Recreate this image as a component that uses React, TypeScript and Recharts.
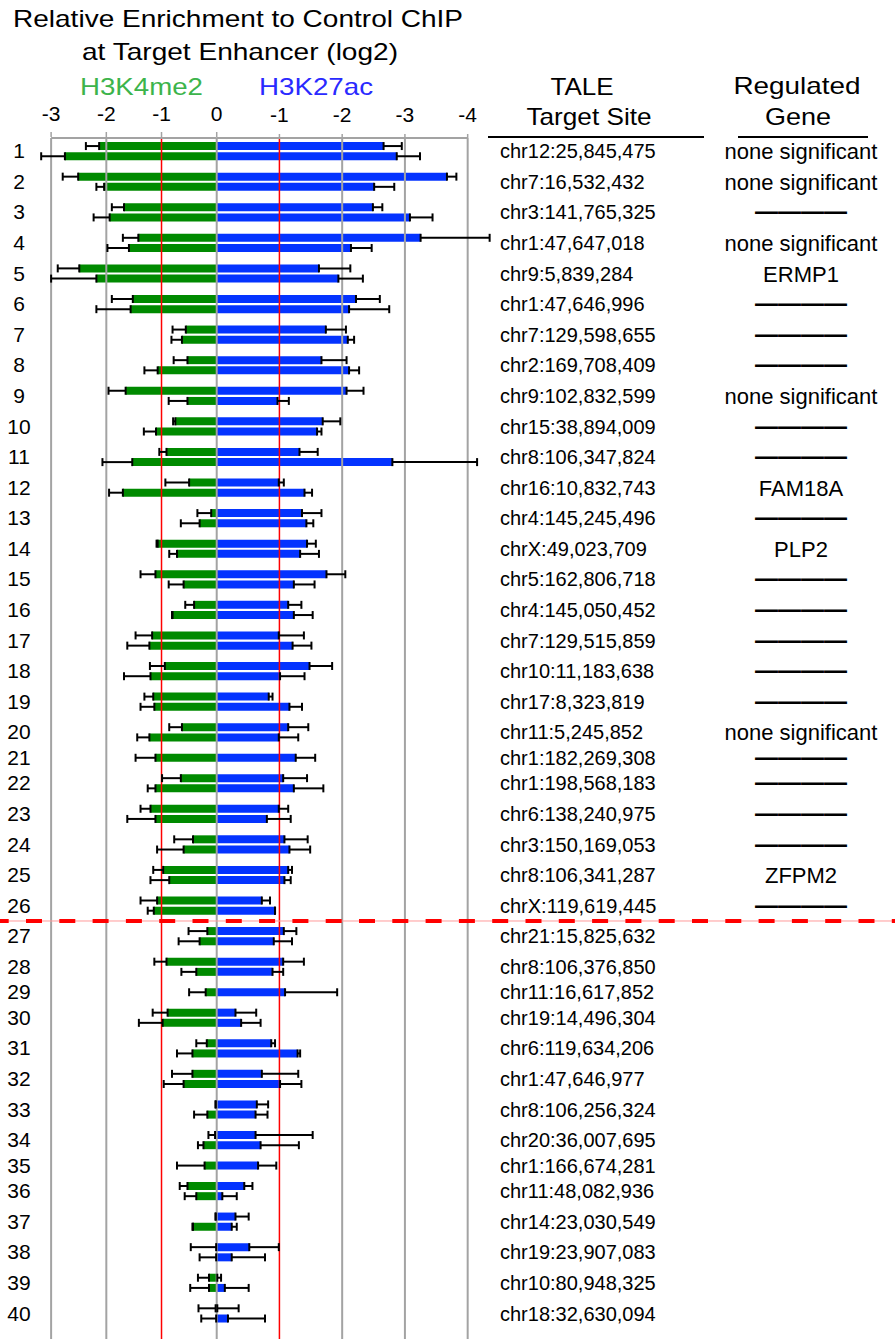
import { BarChart, Bar, XAxis, YAxis, ErrorBar, ReferenceLine } from 'recharts';

const FONT = '"Liberation Sans", Arial, Helvetica, sans-serif';
const GREEN = '#008a00';
const BLUE = '#0433ff';
const GRID = '#a3a3a3';
const RED = '#ff0000';

const ROW_NUMBERS = [
  '1', '2', '3', '4', '5', '6', '7', '8', '9', '10',
  '11', '12', '13', '14', '15', '16', '17', '18', '19', '20',
  '21', '22', '23', '24', '25', '26', '27', '28', '29', '30',
  '31', '32', '33', '34', '35', '36', '37', '38', '39', '40',
];

const TARGET_SITES = [
  'chr12:25,845,475', 'chr7:16,532,432', 'chr3:141,765,325', 'chr1:47,647,018', 'chr9:5,839,284',
  'chr1:47,646,996', 'chr7:129,598,655', 'chr2:169,708,409', 'chr9:102,832,599', 'chr15:38,894,009',
  'chr8:106,347,824', 'chr16:10,832,743', 'chr4:145,245,496', 'chrX:49,023,709', 'chr5:162,806,718',
  'chr4:145,050,452', 'chr7:129,515,859', 'chr10:11,183,638', 'chr17:8,323,819', 'chr11:5,245,852',
  'chr1:182,269,308', 'chr1:198,568,183', 'chr6:138,240,975', 'chr3:150,169,053', 'chr8:106,341,287',
  'chrX:119,619,445', 'chr21:15,825,632', 'chr8:106,376,850', 'chr11:16,617,852', 'chr19:14,496,304',
  'chr6:119,634,206', 'chr1:47,646,977', 'chr8:106,256,324', 'chr20:36,007,695', 'chr1:166,674,281',
  'chr11:48,082,936', 'chr14:23,030,549', 'chr19:23,907,083', 'chr10:80,948,325', 'chr18:32,630,094',
];

// '' = dash (no gene listed), null = nothing shown
const REGULATED_GENES: (string | null)[] = [
  'none significant', 'none significant', '', 'none significant', 'ERMP1',
  '', '', '', 'none significant', '',
  '', 'FAM18A', '', 'PLP2', '',
  '', '', '', '', 'none significant',
  '', '', '', '', 'ZFPM2',
  '', null, null, null, null,
  null, null, null, null, null,
  null, null, null, null, null,
];

// rows above the red dashed line
const CUTOFF_ROW = 26;

// H3K4me2, log2 enrichment vs control (null = one replicate only)
const K4ME2_REP1 = [
  -2.13, -2.51, -1.68, -1.42, -2.49, -1.52, -0.56, -0.53, -1.65, -0.75,
  -0.91, -0.5, -0.1, -1.07, -1.11, -0.41, -1.17, -0.94, -1.15, -0.63,
  -1.11, -0.65, -1.2, -0.43, -0.97, -1.08, -0.17, -0.91, -0.2, -0.89,
  -0.18, -0.44, -0.02, -0.03, -0.22, -0.53, -0.02, -0.01, -0.14, -0.02,
];
const K4ME2_ERR1 = [
  0.24, 0.28, 0.22, 0.28, 0.39, 0.38, 0.24, 0.25, 0.31, 0.04,
  0.13, 0.43, 0.25, 0.02, 0.27, 0.16, 0.3, 0.27, 0.16, 0.23,
  0.36, 0.34, 0.18, 0.34, 0.18, 0.3, 0.34, 0.22, 0.3, 0.27,
  0.19, 0.37, 0.0, 0.12, 0.5, 0.14, 0.0, 0.46, 0.2, 0.31,
];
const K4ME2_REP2 = [
  -2.75, -2.04, -1.94, -1.59, -2.18, -1.56, -0.63, -1.07, -0.53, -1.1,
  -1.53, -1.7, -0.31, -0.72, -0.6, -0.8, -1.22, -1.2, -1.13, -1.22,
  null, -1.11, -1.11, -0.6, -0.86, -1.14, -0.31, -0.37, null, -0.98,
  -0.44, -0.6, -0.17, -0.24, null, -0.37, -0.43, -0.01, -0.14, -0.01,
];
const K4ME2_ERR2 = [
  0.43, 0.14, 0.29, 0.39, 0.82, 0.62, 0.19, 0.24, 0.34, 0.22,
  0.54, 0.25, 0.34, 0.14, 0.27, 0.01, 0.4, 0.48, 0.25, 0.22,
  null, 0.14, 0.51, 0.48, 0.34, 0.11, 0.38, 0.27, null, 0.43,
  0.28, 0.36, 0.24, 0.1, null, 0.21, 0.01, 0.3, 0.34, 0.27,
];

// H3K27ac
const K27AC_REP1 = [
  -2.66, -3.67, -2.49, -3.25, -1.63, -2.22, -1.74, -1.67, -2.07, -1.69,
  -1.32, -0.99, -1.36, -1.44, -1.75, -1.14, -0.99, -1.48, -0.83, -1.14,
  -1.26, -1.06, -0.99, -1.08, -1.14, -0.72, -1.07, -1.06, -1.09, -0.3,
  -0.87, -0.72, -0.64, -0.62, -0.66, -0.44, -0.3, -0.52, -0.01, -0.01,
];
const K27AC_ERR1 = [
  0.29, 0.15, 0.15, 1.1, 0.5, 0.38, 0.32, 0.4, 0.27, 0.28,
  0.29, 0.08, 0.31, 0.14, 0.3, 0.21, 0.4, 0.36, 0.06, 0.32,
  0.31, 0.38, 0.15, 0.37, 0.06, 0.13, 0.2, 0.33, 0.83, 0.33,
  0.06, 0.58, 0.18, 0.91, 0.29, 0.13, 0.21, 0.47, 0.06, 0.34,
];
const K27AC_REP2 = [
  -2.87, -2.51, -3.08, -2.14, -1.94, -2.11, -2.09, -2.11, -0.97, -1.6,
  -2.8, -1.4, -1.43, -1.33, -1.23, -1.23, -1.21, -1.01, -1.16, -0.99,
  null, -1.23, -0.8, -1.16, -1.08, -0.93, -0.91, -0.89, null, -0.39,
  -1.29, -1.01, -0.62, -0.7, null, -0.09, -0.24, -0.24, -0.13, -0.18,
];
const K27AC_ERR2 = [
  0.37, 0.32, 0.36, 0.33, 0.39, 0.64, 0.1, 0.16, 0.18, 0.07,
  1.35, 0.12, 0.11, 0.3, 0.33, 0.3, 0.3, 0.39, 0.2, 0.31,
  null, 0.47, 0.38, 0.33, 0.1, 0.0, 0.29, 0.17, null, 0.31,
  0.04, 0.34, 0.19, 0.61, null, 0.23, 0.08, 0.53, 0.38, 0.59,
];

const K4_TICKS = [-3, -2, -1, 0];
const K27_TICKS = [-1, -2, -3, -4];

// one slot per replicate bar, one empty slot between targets
type Slot = { pos: number; k4: number; k4Err: number[]; k27: number; k27Err: number[] };
const slots: Slot[] = [];
const rowCenters: number[] = [];
const rowEnds: number[] = [];
let cursor = 0;
ROW_NUMBERS.forEach((_, i) => {
  const reps = [
    [K4ME2_REP1[i], K4ME2_ERR1[i], K27AC_REP1[i], K27AC_ERR1[i]],
    [K4ME2_REP2[i], K4ME2_ERR2[i], K27AC_REP2[i], K27AC_ERR2[i]],
  ].filter((r) => r[0] !== null) as number[][];
  const first = cursor;
  reps.forEach(([k4, k4e, k27, k27e]) => {
    // whiskers point away from zero only
    slots.push({ pos: cursor, k4, k4Err: [k4e, 0], k27, k27Err: [k27e, 0] });
    cursor += 1;
  });
  rowCenters.push((first + cursor - 1) / 2);
  rowEnds.push(cursor - 1);
  cursor += 1;
});
const cutoffPos = rowEnds[CUTOFF_ROW - 1] + 1;

const Y_DOMAIN = [-0.8, 117];
const K4_DOMAIN = [-3.926, 12.288];
const K27_DOMAIN = [-10.81, 3.453];

function RowTick(props: any) {
  const { y, payload } = props;
  const i = rowCenters.indexOf(payload.value);
  if (i < 0) return null;
  const gene = REGULATED_GENES[i];
  return (
    <g fill="#000" fontFamily={FONT}>
      <text x={19} y={y + 7} textAnchor="middle" fontSize={21}>{ROW_NUMBERS[i]}</text>
      <text x={500} y={y + 7} fontSize={20}>{TARGET_SITES[i]}</text>
      {gene !== null && (
        <text x={801} y={gene ? y + 8 : y + 7} textAnchor="middle" fontSize={gene ? 22 : 23} fontWeight={gene ? 400 : 700}>
          {gene || '————'}
        </text>
      )}
    </g>
  );
}

export default function App() {
  return (
    <div style={{ position: 'absolute', left: 0, top: 0, width: 895, height: 1339, background: '#fff', fontFamily: FONT }}>
      <BarChart
        width={895}
        height={1339}
        data={slots}
        layout="vertical"
        margin={{ top: 136, right: 0, bottom: 0, left: 0 }}
      >
        <XAxis
          xAxisId="k4" type="number" orientation="top" height={1}
          domain={K4_DOMAIN} allowDataOverflow ticks={K4_TICKS} interval={0}
          axisLine={false} tickSize={5} tickMargin={11}
          tickLine={{ stroke: GRID, strokeWidth: 1.5 }}
          tick={{ fontSize: 21, fill: '#000' }}
        />
        <XAxis
          xAxisId="k27" type="number" orientation="top" height={1} reversed
          domain={K27_DOMAIN} allowDataOverflow ticks={K27_TICKS} interval={0}
          axisLine={false} tickSize={4} tickMargin={12}
          tickLine={{ stroke: GRID, strokeWidth: 1.5 }}
          tick={{ fontSize: 21, fill: '#000' }}
        />
        <YAxis
          yAxisId="rows" type="number" dataKey="pos" domain={Y_DOMAIN} allowDataOverflow
          ticks={rowCenters} interval={0} mirror width={1} axisLine={false} tickLine={false}
          tick={<RowTick />}
        />
        <YAxis yAxisId="k4err" type="number" dataKey="pos" domain={Y_DOMAIN} allowDataOverflow hide />
        <YAxis yAxisId="k27err" type="number" dataKey="pos" domain={Y_DOMAIN} allowDataOverflow hide />
        <YAxis yAxisId="k4" type="number" dataKey="pos" domain={Y_DOMAIN} allowDataOverflow hide />
        <YAxis yAxisId="k27" type="number" dataKey="pos" domain={Y_DOMAIN} allowDataOverflow hide />

        {K4_TICKS.map((t) => (
          <ReferenceLine key={`k4-${t}`} xAxisId="k4" yAxisId="rows" x={t}
            stroke={t === -1 ? RED : GRID} strokeWidth={t === -1 ? 1.5 : 2} />
        ))}
        {K27_TICKS.map((t) => (
          <ReferenceLine key={`k27-${t}`} xAxisId="k27" yAxisId="rows" x={t}
            stroke={t === -1 ? RED : GRID} strokeWidth={t === -1 ? 1.5 : 2} />
        ))}
        <ReferenceLine xAxisId="k4" yAxisId="rows" ifOverflow="visible" stroke={GRID} strokeWidth={2}
          segment={[{ x: K4_TICKS[0], y: Y_DOMAIN[0] }, { x: 0, y: Y_DOMAIN[0] }]} />
        <ReferenceLine xAxisId="k27" yAxisId="rows" ifOverflow="visible" stroke={GRID} strokeWidth={2}
          segment={[{ x: 0, y: Y_DOMAIN[0] }, { x: K27_TICKS[K27_TICKS.length - 1], y: Y_DOMAIN[0] }]} />

        {/* error whiskers sit under the bars */}
        <Bar xAxisId="k4" yAxisId="k4err" dataKey="k4" fill="none" barSize={8} isAnimationActive={false}>
          <ErrorBar dataKey="k4Err" direction="x" width={4} stroke="#000" strokeWidth={2} isAnimationActive={false} />
        </Bar>
        <Bar xAxisId="k27" yAxisId="k27err" dataKey="k27" fill="none" barSize={8} isAnimationActive={false}>
          <ErrorBar dataKey="k27Err" direction="x" width={4} stroke="#000" strokeWidth={2} isAnimationActive={false} />
        </Bar>
        <Bar name="H3K4me2" xAxisId="k4" yAxisId="k4" dataKey="k4" fill={GREEN} barSize={8} isAnimationActive={false} />
        <Bar name="H3K27ac" xAxisId="k27" yAxisId="k27" dataKey="k27" fill={BLUE} barSize={8} isAnimationActive={false} />

        <ReferenceLine xAxisId="k4" yAxisId="rows" y={cutoffPos} stroke="#ff9a9a" strokeWidth={1} />
        <ReferenceLine xAxisId="k4" yAxisId="rows" y={cutoffPos} stroke="#ff0000" strokeWidth={4}
          strokeDasharray="16 17.3" strokeDashoffset={7.3} />
      </BarChart>

      <svg width={895} height={140} style={{ position: 'absolute', left: 0, top: 0 }} fontFamily={FONT}>
        <text x={238} y={27} textAnchor="middle" fontSize={24} textLength={450} lengthAdjust="spacingAndGlyphs">
          Relative Enrichment to Control ChIP
        </text>
        <text x={240} y={60} textAnchor="middle" fontSize={24} textLength={316} lengthAdjust="spacingAndGlyphs">
          at Target Enhancer (log2)
        </text>
        <text x={141.5} y={95} textAnchor="middle" fontSize={24} fill="#3cb44b" textLength={123} lengthAdjust="spacingAndGlyphs">
          H3K4me2
        </text>
        <text x={316} y={95} textAnchor="middle" fontSize={24} fill="#2a2aff" textLength={114} lengthAdjust="spacingAndGlyphs">
          H3K27ac
        </text>
        <text x={582} y={95} textAnchor="middle" fontSize={24} textLength={63} lengthAdjust="spacingAndGlyphs">TALE</text>
        <text x={589} y={125} textAnchor="middle" fontSize={24} textLength={125} lengthAdjust="spacingAndGlyphs">Target Site</text>
        <line x1={488} x2={704} y1={137} y2={137} stroke="#000" strokeWidth={2} />
        <text x={797} y={94} textAnchor="middle" fontSize={24} textLength={127} lengthAdjust="spacingAndGlyphs">Regulated</text>
        <text x={798} y={125} textAnchor="middle" fontSize={24} textLength={66} lengthAdjust="spacingAndGlyphs">Gene</text>
        <line x1={738} x2={868} y1={137} y2={137} stroke="#000" strokeWidth={2} />
      </svg>
    </div>
  );
}
